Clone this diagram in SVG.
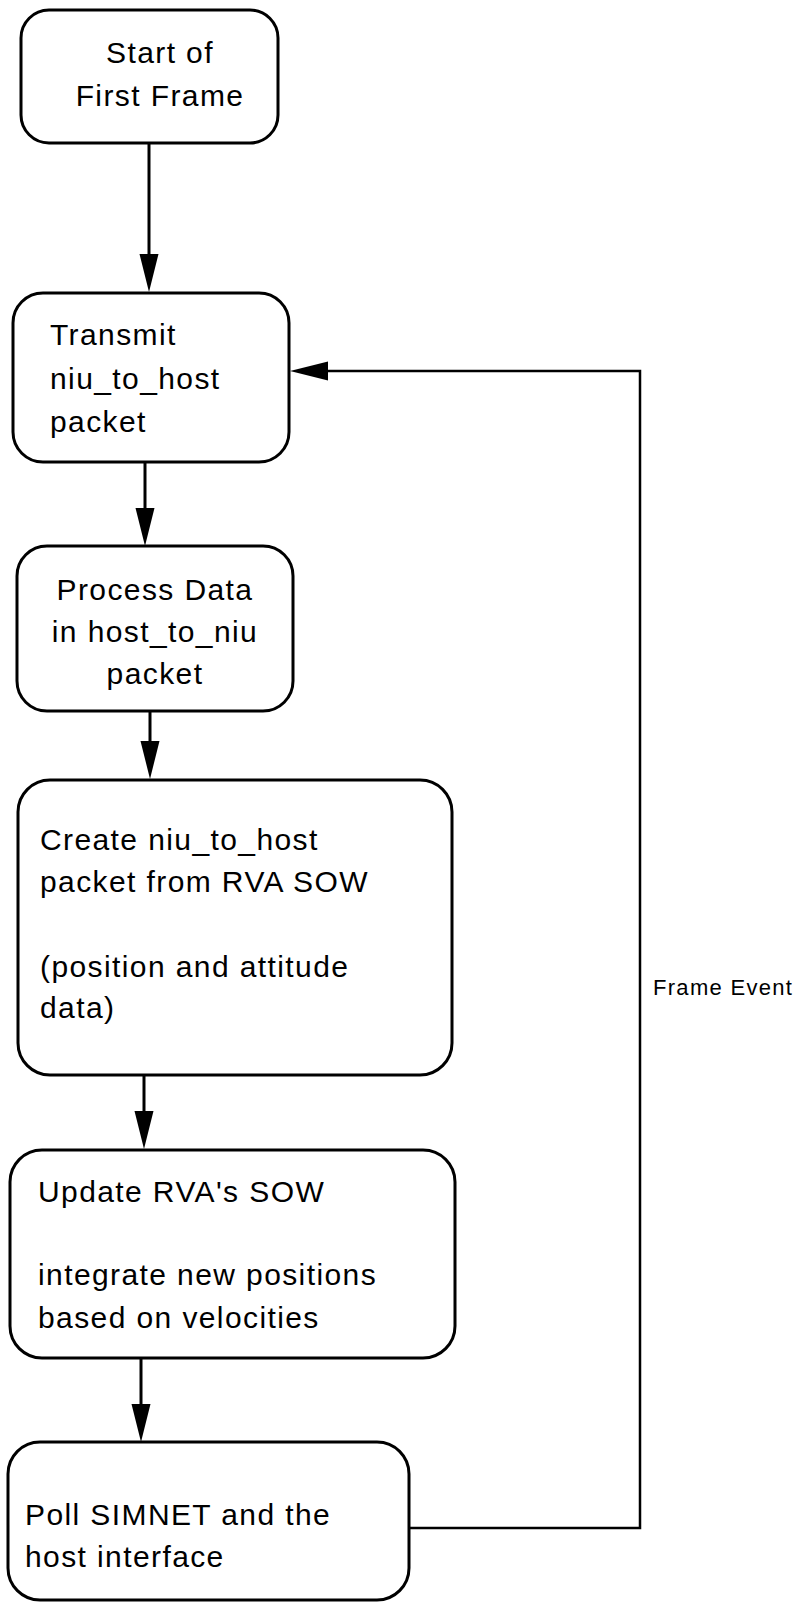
<svg xmlns="http://www.w3.org/2000/svg" width="799" height="1603" viewBox="0 0 799 1603">
<style>
.box{fill:#fff;stroke:#000;stroke-width:3}
.t{font-family:"Liberation Sans",Arial,Helvetica,sans-serif;font-size:30px;letter-spacing:1.4px;fill:#000}
.c{text-anchor:middle}
.lbl{font-family:"Liberation Sans",Arial,Helvetica,sans-serif;font-size:22px;letter-spacing:1.3px;fill:#000}
.ln{fill:none;stroke:#000;stroke-width:3}
.fb{fill:none;stroke:#000;stroke-width:2.5}
</style>
<defs>
<marker id="ah" markerUnits="userSpaceOnUse" markerWidth="40" markerHeight="20" viewBox="0 0 38 20" refX="28" refY="10" orient="auto">
<path d="M0,0.5 L38,10 L0,19.5 z" fill="#000"/>
</marker>
</defs>
<g id="connectors">
<line class="ln" x1="149" y1="143" x2="149" y2="282" marker-end="url(#ah)"/>
<line class="ln" x1="145" y1="462" x2="145" y2="536" marker-end="url(#ah)"/>
<line class="ln" x1="150" y1="711" x2="150" y2="769" marker-end="url(#ah)"/>
<line class="ln" x1="144" y1="1075" x2="144" y2="1139" marker-end="url(#ah)"/>
<line class="ln" x1="141" y1="1358" x2="141" y2="1432" marker-end="url(#ah)"/>
<polyline class="fb" points="409,1528 640,1528 640,371 300,371" marker-end="url(#ah)"/>
<text class="lbl" x="653" y="995">Frame Event</text>
</g>
<g id="start">
<rect class="box" x="21" y="10" width="257" height="133" rx="28"/>
<text class="t c" x="160" y="63">Start of</text>
<text class="t c" x="160" y="106">First Frame</text>
</g>
<g id="transmit">
<rect class="box" x="13" y="293" width="276" height="169" rx="30"/>
<text class="t" x="50" y="345">Transmit</text>
<text class="t" x="50" y="389">niu_to_host</text>
<text class="t" x="50" y="432">packet</text>
</g>
<g id="process">
<rect class="box" x="17" y="546" width="276" height="165" rx="30"/>
<text class="t c" x="155" y="600">Process Data</text>
<text class="t c" x="155" y="642">in host_to_niu</text>
<text class="t c" x="155" y="684">packet</text>
</g>
<g id="create">
<rect class="box" x="18" y="780" width="434" height="295" rx="32"/>
<text class="t" x="40" y="850">Create niu_to_host</text>
<text class="t" x="40" y="892">packet from RVA SOW</text>
<text class="t" x="40" y="977">(position and attitude</text>
<text class="t" x="40" y="1018">data)</text>
</g>
<g id="update">
<rect class="box" x="10" y="1150" width="445" height="208" rx="32"/>
<text class="t" x="38" y="1202">Update RVA's SOW</text>
<text class="t" x="38" y="1285">integrate new positions</text>
<text class="t" x="38" y="1328">based on velocities</text>
</g>
<g id="poll">
<rect class="box" x="8" y="1442" width="401" height="158" rx="32"/>
<text class="t" x="25" y="1525">Poll SIMNET and the</text>
<text class="t" x="25" y="1567">host interface</text>
</g>
</svg>
